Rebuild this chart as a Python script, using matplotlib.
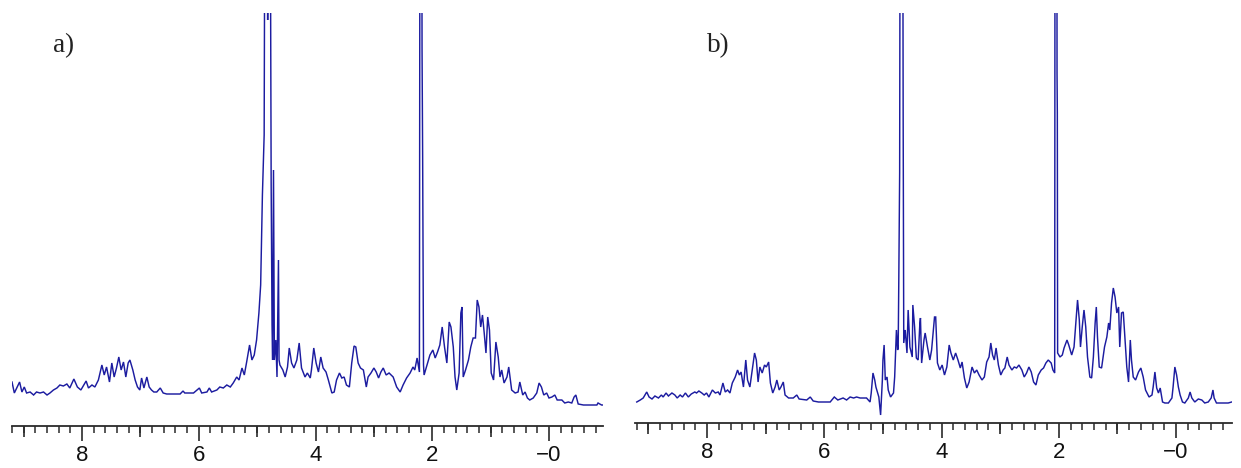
import matplotlib
matplotlib.use("Agg")
import matplotlib.pyplot as plt
from matplotlib.ticker import MultipleLocator, FixedLocator, FixedFormatter

# ---------------- data (chemical shift in ppm, intensity in arbitrary units) ----------------
ppm_a = [9.20, 9.16, 9.12, 9.07, 9.03, 8.99, 8.95, 8.89, 8.83, 8.78, 8.72, 8.66, 8.60, 8.55,
         8.49, 8.43, 8.38, 8.32, 8.26, 8.21, 8.14, 8.08, 8.02, 7.98, 7.93, 7.89, 7.83, 7.78,
         7.72, 7.66, 7.62, 7.58, 7.53, 7.49, 7.45, 7.41, 7.37, 7.33, 7.29, 7.25, 7.21, 7.18,
         7.13, 7.09, 7.05, 7.01, 6.98, 6.94, 6.89, 6.85, 6.81, 6.77, 6.72, 6.66, 6.61, 6.55,
         6.32, 6.27, 6.24, 6.09, 5.99, 5.95, 5.86, 5.82, 5.78, 5.69, 5.64, 5.58, 5.52, 5.46,
         5.41, 5.35, 5.31, 5.26, 5.22, 5.18, 5.13, 5.09, 5.05, 5.01, 4.97, 4.94, 4.91, 4.88,
         4.855, 4.82, 4.79, 4.76, 4.745, 4.735, 4.72, 4.705, 4.68, 4.66, 4.635, 4.625, 4.61,
         4.56, 4.52, 4.48, 4.45, 4.41, 4.37, 4.32, 4.28, 4.24, 4.18, 4.14, 4.09, 4.07, 4.03,
         3.99, 3.95, 3.91, 3.87, 3.82, 3.78, 3.72, 3.68, 3.64, 3.59, 3.55, 3.51, 3.47, 3.42,
         3.38, 3.34, 3.31, 3.27, 3.23, 3.18, 3.13, 3.10, 3.05, 3.00, 2.96, 2.92, 2.88, 2.84,
         2.79, 2.74, 2.67, 2.61, 2.55, 2.50, 2.44, 2.38, 2.33, 2.30, 2.26, 2.22, 2.205, 2.19,
         2.175, 2.165, 2.15, 2.14, 2.10, 2.04, 1.99, 1.95, 1.91, 1.87, 1.83, 1.79, 1.75, 1.71,
         1.68, 1.64, 1.61, 1.58, 1.54, 1.51, 1.49, 1.47, 1.43, 1.38, 1.34, 1.30, 1.26, 1.23,
         1.20, 1.17, 1.14, 1.11, 1.08, 1.05, 1.02, 0.99, 0.95, 0.91, 0.87, 0.84, 0.81, 0.77,
         0.72, 0.69, 0.64, 0.58, 0.53, 0.50, 0.45, 0.41, 0.37, 0.33, 0.27, 0.21, 0.17, 0.13,
         0.09, 0.04, 0.00, -0.05, -0.10, -0.14, -0.22, -0.27, -0.33, -0.39, -0.43, -0.46,
         -0.50, -0.59, -0.82, -0.84, -0.90, -0.93]
int_a = [23, 12, 17, 23, 13, 18, 12, 13, 10, 13, 12, 13, 10, 12,
         15, 17, 20, 19, 21, 17, 26, 18, 15, 19, 24, 17, 20, 18,
         25, 40, 30, 38, 23, 42, 28, 37, 48, 35, 43, 28, 42, 45,
         35, 25, 18, 15, 27, 17, 28, 18, 15, 13, 13, 17, 12, 11,
         11, 14, 12, 12, 17, 12, 13, 17, 13, 15, 18, 17, 20, 18,
         22, 28, 25, 37, 30, 43, 60, 45, 50, 65, 92, 120, 210, 270,
         800, 385, 800, 220, 80, 45, 235, 45, 65, 28, 145, 45, 40,
         35, 28, 38, 57, 42, 37, 45, 62, 37, 28, 32, 27, 35, 57,
         42, 33, 48, 37, 33, 25, 12, 13, 25, 32, 27, 28, 20, 18,
         42, 59, 58, 42, 37, 35, 18, 28, 32, 37, 33, 27, 33, 37,
         30, 32, 28, 18, 13, 20, 27, 32, 38, 35, 47, 33, 900, 900,
         355, 250, 40, 30, 38, 50, 55, 47, 53, 60, 78, 58, 42, 83,
         78, 58, 28, 15, 32, 92, 98, 28, 35, 45, 58, 67, 67, 105,
         98, 78, 90, 72, 52, 88, 75, 32, 25, 63, 48, 28, 35, 22,
         28, 38, 15, 12, 13, 23, 10, 13, 7, 5, 7, 12, 22, 18,
         10, 12, 7, 8, 10, 5, 5, 2, 3, 2, 8, 10,
         1, 0, 0, 2, 0, 0]

ppm_b = [9.20, 9.14, 9.09, 9.03, 8.99, 8.94, 8.89, 8.83, 8.78, 8.75, 8.70, 8.66, 8.60, 8.55,
         8.51, 8.46, 8.42, 8.37, 8.32, 8.27, 8.21, 8.18, 8.14, 8.09, 8.05, 8.01, 7.97, 7.91,
         7.86, 7.81, 7.78, 7.73, 7.69, 7.65, 7.61, 7.57, 7.52, 7.48, 7.45, 7.42, 7.38, 7.34,
         7.31, 7.27, 7.23, 7.19, 7.16, 7.13, 7.10, 7.06, 7.02, 6.99, 6.95, 6.92, 6.88, 6.84,
         6.81, 6.77, 6.74, 6.70, 6.67, 6.61, 6.53, 6.47, 6.43, 6.30, 6.24, 6.19, 6.10, 5.90,
         5.83, 5.77, 5.68, 5.62, 5.56, 5.50, 5.45, 5.39, 5.33, 5.28, 5.22, 5.20, 5.17, 5.14,
         5.12, 5.09, 5.07, 5.04, 5.01, 5.00, 4.98, 4.96, 4.93, 4.91, 4.87, 4.82, 4.80, 4.77,
         4.75, 4.74, 4.73, 4.715, 4.70, 4.67, 4.655, 4.645, 4.62, 4.59, 4.57, 4.54, 4.50,
         4.49, 4.46, 4.43, 4.40, 4.37, 4.36, 4.34, 4.30, 4.28, 4.24, 4.20, 4.17, 4.12, 4.10,
         4.07, 4.03, 3.99, 3.95, 3.91, 3.87, 3.84, 3.80, 3.76, 3.72, 3.68, 3.65, 3.61, 3.57,
         3.53, 3.48, 3.44, 3.40, 3.36, 3.31, 3.27, 3.23, 3.19, 3.16, 3.13, 3.10, 3.07, 3.03,
         2.99, 2.95, 2.92, 2.88, 2.85, 2.80, 2.76, 2.72, 2.68, 2.63, 2.59, 2.55, 2.51, 2.47,
         2.43, 2.39, 2.35, 2.30, 2.26, 2.22, 2.18, 2.13, 2.10, 2.07, 2.06, 2.035, 2.03, 2.025,
         2.02, 1.98, 1.94, 1.91, 1.86, 1.83, 1.78, 1.74, 1.71, 1.68, 1.65, 1.63, 1.60, 1.57,
         1.54, 1.51, 1.47, 1.44, 1.41, 1.38, 1.36, 1.34, 1.31, 1.27, 1.22, 1.18, 1.15, 1.13,
         1.10, 1.07, 1.04, 1.01, 0.98, 0.96, 0.93, 0.90, 0.87, 0.84, 0.81, 0.78, 0.76, 0.73,
         0.69, 0.64, 0.60, 0.56, 0.52, 0.46, 0.41, 0.39, 0.36, 0.33, 0.30, 0.27, 0.23, 0.19,
         0.13, 0.07, 0.05, 0.02, -0.01, -0.04, -0.07, -0.11, -0.15, -0.21, -0.24, -0.27,
         -0.32, -0.38, -0.44, -0.49, -0.55, -0.60, -0.63, -0.65, -0.69, -0.89, -0.95]
int_b = [1, 3, 5, 11, 6, 4, 7, 5, 8, 6, 10, 7, 10, 8,
         5, 8, 6, 10, 6, 9, 11, 10, 12, 10, 8, 10, 6, 13,
         10, 11, 8, 20, 11, 13, 10, 20, 26, 33, 28, 31, 16, 43,
         23, 16, 33, 50, 43, 21, 36, 30, 38, 36, 41, 20, 10, 16,
         23, 13, 16, 21, 8, 5, 5, 8, 4, 3, 6, 2, 1, 1,
         6, 3, 5, 3, 6, 5, 6, 5, 5, 5, 1, 10, 30, 23,
         16, 10, 6, -12, 23, 43, 58, 23, 26, 13, 6, 10, 26, 73,
         53, 55, 120, 230, 800, 800, 286, 60, 73, 50, 93, 56, 46,
         98, 76, 45, 43, 80, 85, 40, 63, 70, 56, 43, 53, 86, 86,
         40, 33, 38, 28, 36, 58, 50, 43, 50, 43, 35, 41, 25, 15,
         21, 36, 30, 33, 28, 23, 26, 41, 46, 60, 48, 43, 55, 38,
         28, 33, 35, 46, 38, 33, 36, 35, 38, 33, 26, 30, 36, 31,
         21, 18, 28, 33, 35, 40, 43, 40, 33, 30, 900, 900, 330, 290,
         50, 46, 48, 55, 63, 58, 48, 56, 80, 103, 83, 56, 76, 93,
         76, 46, 26, 25, 46, 80, 96, 66, 36, 35, 56, 66, 80, 73,
         100, 115, 106, 90, 96, 56, 90, 91, 63, 36, 21, 63, 43, 26,
         23, 31, 35, 26, 13, 6, 8, 16, 31, 15, 10, 15, 1, 0,
         0, 5, 16, 36, 28, 16, 8, 1, 0, 5, 11, 5,
         1, 4, 3, 0, 1, 5, 13, 5, 0, 0, 1]

tick_values = [8, 6, 4, 2, 0]
tick_labels = ["8", "6", "4", "2", "\u22120"]
odd_ticks = [9, 7, 5, 3, 1, -1]
panel_labels = ["a)", "b)"]

# ---------------- figure ----------------
W, H = 1241, 468
fig = plt.figure(figsize=(W / 100, H / 100), dpi=100)

def px_axes(x0, x1, ybot, ytop):
    return fig.add_axes([x0 / W, 1 - ybot / H, (x1 - x0) / W, (ybot - ytop) / H])

line_color = "#1c1ca0"
axis_color = "#2a2a2a"

specs = [
    dict(rect=(12, 603, 426, 13), xlim=(9.20, -0.925), ylim=(-21, 392),
         x=ppm_a, y=int_a, label_x=64),
    dict(rect=(635, 1232, 423, 13), xlim=(9.23, -0.955), ylim=(-20, 390),
         x=ppm_b, y=int_b, label_x=718),
]

for spec, lab in zip(specs, panel_labels):
    ax = px_axes(*spec["rect"])
    ax.plot(spec["x"], spec["y"], color=line_color, lw=1.05, solid_joinstyle="miter")
    ax.set_xlim(*spec["xlim"])
    ax.set_ylim(*spec["ylim"])
    for s in ("top", "left", "right"):
        ax.spines[s].set_visible(False)
    ax.spines["bottom"].set_color(axis_color)
    ax.spines["bottom"].set_linewidth(1.3)
    ax.set_yticks([])
    ax.xaxis.set_major_locator(FixedLocator(tick_values))
    ax.xaxis.set_major_formatter(FixedFormatter(tick_labels))
    ax.xaxis.set_minor_locator(MultipleLocator(0.2))
    ax.tick_params(axis="x", which="major", direction="out", length=10.5, width=1.2,
                   color=axis_color, pad=3.0, labelsize=16, labelcolor="#111111")
    ax.tick_params(axis="x", which="minor", direction="out", length=5.2, width=1.1,
                   color=axis_color)
    for t in ax.get_xticklabels():
        t.set_fontfamily("Liberation Sans")
    # medium ticks at odd integers
    sec = ax.secondary_xaxis("bottom")
    sec.set_xticks(odd_ticks)
    sec.set_xticklabels([])
    sec.tick_params(axis="x", direction="out", length=7.7, width=1.2, color=axis_color)
    sec.spines["bottom"].set_visible(False)
    ax.set_facecolor("none")
    fig.text(spec["label_x"] / W, 1 - 46 / H, lab, fontsize=19.5,
             family="Liberation Serif", color="#222222", ha="center", va="center")

fig.savefig("out.png", dpi=100, facecolor="white")
